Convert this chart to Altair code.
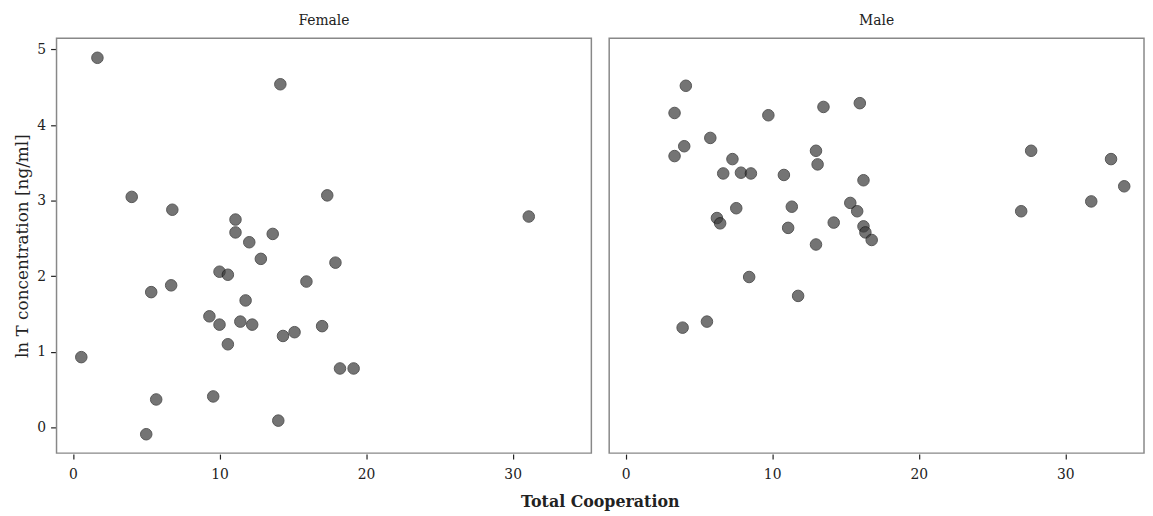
import altair as alt
import pandas as pd

FONT = "DejaVu Serif"

female_x = [1.67, 4.01, 6.78, 11.09, 11.09, 12.03, 13.63, 14.15, 17.35, 12.82, 17.91, 10.0, 10.57,
            5.34, 6.70, 15.93, 11.78, 9.31, 10.0, 11.42, 12.23, 17.0, 14.33, 15.12, 10.57, 0.57,
            18.22, 19.15, 5.68, 9.57, 5.0, 14.01, 31.1]
female_y = [4.89, 3.05, 2.88, 2.75, 2.58, 2.45, 2.56, 4.54, 3.07, 2.23, 2.18, 2.06, 2.02,
            1.79, 1.88, 1.93, 1.68, 1.47, 1.36, 1.40, 1.36, 1.34, 1.21, 1.26, 1.10, 0.93,
            0.78, 0.78, 0.37, 0.41, -0.09, 0.09, 2.79]

male_x = [4.11, 3.34, 4.0, 3.34, 5.78, 7.29, 6.66, 7.87, 8.55, 9.74, 10.8, 13.5, 15.98, 12.99,
          13.1, 16.23, 7.55, 6.23, 6.45, 11.34, 11.09, 14.2, 15.33, 15.8, 16.23, 16.36, 16.79,
          12.99, 8.43, 11.77, 5.55, 3.89, 27.67, 26.99, 33.12, 34.02, 31.77]
male_y = [4.52, 4.16, 3.72, 3.59, 3.83, 3.55, 3.36, 3.37, 3.36, 4.13, 3.34, 4.24, 4.29, 3.66,
          3.48, 3.27, 2.90, 2.77, 2.70, 2.92, 2.64, 2.71, 2.97, 2.86, 2.66, 2.58, 2.48,
          2.42, 1.99, 1.74, 1.40, 1.32, 3.66, 2.86, 3.55, 3.19, 2.99]

sex_levels = ["Female", "Male"]

df = pd.DataFrame({
    "coop": female_x + male_x,
    "lnT": female_y + male_y,
    "sex": ["Female"] * len(female_x) + ["Male"] * len(male_x),
})

points = alt.Chart().mark_circle(
    size=135, color="#3a3a3a", opacity=0.7, stroke="#111111", strokeWidth=1
).encode(
    x=alt.X("coop:Q", scale=alt.Scale(domain=[-1.12, 35.37], nice=False, zero=False),
            axis=alt.Axis(values=[0, 10, 20, 30], title=None, labelPadding=9)),
    y=alt.Y("lnT:Q", scale=alt.Scale(domain=[-0.34, 5.15], nice=False, zero=False),
            axis=alt.Axis(values=[0, 1, 2, 3, 4, 5], title="ln T concentration [ng/ml]",
                          labelPadding=5)),
).properties(width=540, height=419)

chart = alt.layer(points, data=df).facet(
    column=alt.Column("sex:N", sort=sex_levels, title="Total Cooperation",
                      header=alt.Header(labelOrient="top", titleOrient="bottom",
                                        labelFont=FONT, labelFontSize=14, labelColor="#222",
                                        labelPadding=9,
                                        titleFont=FONT, titleFontSize=16, titleFontWeight="bold",
                                        titleColor="#222", titlePadding=2)),
    spacing=16,
).configure(
    background="white", padding={"top": 4, "left": 6, "right": 0, "bottom": 0}
).configure_view(
    stroke="#888888", strokeWidth=1.5
).configure_axis(
    grid=False, domain=False, tickColor="#222", tickSize=5, tickWidth=1.2,
    labelFont=FONT, labelFontSize=14, labelColor="#222",
    titleFont=FONT, titleFontSize=17, titleFontWeight="normal", titleColor="#222",
    titlePadding=5,
)

chart.save("out.html", embed_options={"renderer": "svg", "actions": False})
